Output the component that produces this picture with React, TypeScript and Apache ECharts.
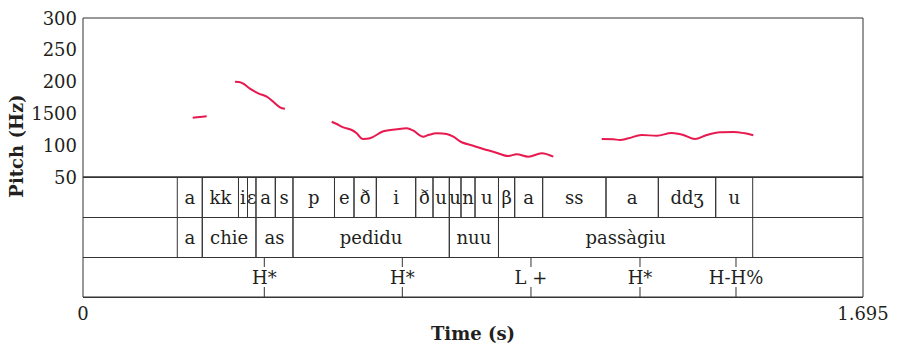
import React, { useEffect, useRef } from "react";
import * as echarts from "echarts";

// Pitch contour segments (time in s, pitch in Hz)
const seg1T = [0.2384, 0.2536, 0.2688];
const seg1F = [143.2, 144.3, 145.4];
const seg2T = [0.3303, 0.339, 0.3483, 0.3629, 0.3809, 0.3992, 0.4135, 0.4281, 0.4389];
const seg2F = [199.8, 199.4, 196.9, 189.0, 181.6, 176.3, 168.4, 159.6, 157.4];
const seg3T = [0.5404, 0.5513, 0.5656, 0.5839, 0.5947, 0.6078, 0.6237, 0.6526, 0.6817, 0.7034, 0.7178, 0.7395, 0.7504, 0.7686, 0.7903, 0.8047, 0.8229, 0.8481, 0.8699, 0.8916, 0.9242, 0.9425, 0.9677, 0.9968, 1.022];
const seg3F = [136.9, 133.3, 128.1, 123.9, 118.7, 109.7, 110.8, 121.9, 125.0, 126.6, 122.8, 113.4, 116.0, 118.7, 117.6, 113.4, 104.6, 99.2, 94.0, 89.8, 83.0, 85.7, 81.9, 87.3, 81.9];
const seg4T = [1.1272, 1.1524, 1.1669, 1.185, 1.2141, 1.2467, 1.2793, 1.3045, 1.3299, 1.3553, 1.3842, 1.4131, 1.4386, 1.4566];
const seg4F = [109.7, 109.3, 108.2, 110.8, 116.0, 114.9, 119.2, 116.0, 109.7, 116.0, 120.3, 120.8, 118.7, 115.6];

// Y tick labels
const yTicks = [50, 100, 150, 200, 250, 300];
const yTickLabels = ["50", "100", "1500", "200", "250", "300"];

// Tier 1 (segments)
const tier1Bounds = [0.2049, 0.2592, 0.3379, 0.3575, 0.3759, 0.4179, 0.4563, 0.5465, 0.5889, 0.6374, 0.723, 0.7606, 0.796, 0.8214, 0.8519, 0.9029, 0.9381, 0.9989, 1.1365, 1.2502, 1.3749, 1.4553];
const tier1Labels = ["a", "kk", "i", "ɛ", "a", "s", "p", "e", "ð", "i", "ð", "u", "u", "n", "u", "β", "a", "ss", "a", "ddʒ", "u"];
// Tier 2 (words)
const tier2Bounds = [0.2049, 0.2592, 0.3759, 0.4563, 0.796, 0.9029, 1.4553];
const tier2Labels = ["a", "chie", "as", "pedidu", "nuu", "passàgiu"];
// Tier 3 (tones, points)
const tier3Times = [0.394, 0.6939, 0.9735, 1.2104, 1.419];
const tier3Labels = ["H*", "H*", "L +", "H*", "H-H%"];

const X_MAX = 1.695;
const FONT = '"DejaVu Serif", serif';
const INK = "#231f20";
const LINE = "#333333";
const PITCH = "#e8194f";

function zip(t: number[], f: number[]) {
  return t.map((v, i) => [v, f[i]]);
}

export default function App() {
  const ref = useRef<HTMLDivElement>(null);
  useEffect(() => {
    if (!ref.current) return;
    const chart = echarts.init(ref.current, null, { renderer: "svg" });

    const intervalData: number[][] = [];
    const intervalLabels: string[] = [];
    for (let i = 0; i < tier1Labels.length; i++) {
      intervalData.push([tier1Bounds[i], tier1Bounds[i + 1], 0]);
      intervalLabels.push(tier1Labels[i]);
    }
    for (let i = 0; i < tier2Labels.length; i++) {
      intervalData.push([tier2Bounds[i], tier2Bounds[i + 1], 1]);
      intervalLabels.push(tier2Labels[i]);
    }
    const pointData = tier3Times.map((t) => [t, 2]);

    const pitchSeries = [
      zip(seg1T, seg1F),
      zip(seg2T, seg2F),
      zip(seg3T, seg3F),
      zip(seg4T, seg4F),
    ].map((d) => ({
      type: "line",
      xAxisIndex: 0,
      yAxisIndex: 0,
      data: d,
      showSymbol: false,
      smooth: 0.35,
      lineStyle: { color: PITCH, width: 2 },
      itemStyle: { color: PITCH },
      silent: true,
    }));

    const option: any = {
      animation: false,
      grid: [
        { left: 83, top: 18, width: 780, height: 159, show: true, borderColor: LINE, borderWidth: 1, backgroundColor: "transparent" },
        { left: 83, top: 177, width: 780, height: 120, show: true, borderColor: LINE, borderWidth: 1, backgroundColor: "transparent" },
      ],
      xAxis: [
        { type: "value", gridIndex: 0, min: 0, max: X_MAX, show: false },
        {
          type: "value",
          gridIndex: 1,
          min: 0,
          max: X_MAX,
          interval: X_MAX,
          axisLine: { show: false },
          axisTick: { show: false },
          splitLine: { show: false },
          axisLabel: {
            margin: 7,
            fontSize: 18,
            fontFamily: FONT,
            color: INK,
            formatter: (v: number) => (v < 0.001 ? "0" : "1.695"),
          },
          name: "Time (s)",
          nameLocation: "middle",
          nameGap: 27,
          nameTextStyle: { fontSize: 18, fontFamily: FONT, fontWeight: "bold", color: INK },
        },
      ],
      yAxis: [
        {
          type: "value",
          gridIndex: 0,
          min: 50,
          max: 300,
          interval: 50,
          axisLine: { show: false },
          axisTick: { show: false },
          splitLine: { show: false },
          axisLabel: {
            margin: 6,
            fontSize: 18,
            fontFamily: FONT,
            color: INK,
            formatter: (v: number) => {
              const i = yTicks.indexOf(Math.round(v));
              return i >= 0 ? yTickLabels[i] : "";
            },
          },
        },
        {
          type: "value",
          gridIndex: 1,
          min: 0,
          max: 3,
          interval: 1,
          inverse: true,
          axisLine: { show: false },
          axisTick: { show: false },
          axisLabel: { show: false },
          splitLine: { show: true, lineStyle: { color: LINE, width: 1 } },
        },
      ],
      series: [
        ...pitchSeries,
        {
          type: "custom",
          xAxisIndex: 1,
          yAxisIndex: 1,
          data: intervalData,
          encode: { x: [0, 1], y: 2 },
          silent: true,
          renderItem: (params: any, api: any) => {
            const s = api.value(0);
            const e = api.value(1);
            const row = api.value(2);
            const p0 = api.coord([s, row]);
            const p1 = api.coord([e, row + 1]);
            const lbl = intervalLabels[params.dataIndex];
            return {
              type: "group",
              children: [
                { type: "line", shape: { x1: p0[0], y1: p0[1], x2: p0[0], y2: p1[1] }, style: { stroke: LINE, lineWidth: 1 } },
                { type: "line", shape: { x1: p1[0], y1: p0[1], x2: p1[0], y2: p1[1] }, style: { stroke: LINE, lineWidth: 1 } },
                {
                  type: "text",
                  style: {
                    text: lbl,
                    x: (p0[0] + p1[0]) / 2,
                    y: (p0[1] + p1[1]) / 2,
                    align: "center",
                    verticalAlign: "middle",
                    fontSize: 18,
                    fontFamily: FONT,
                    fill: INK,
                  },
                },
              ],
            };
          },
        },
        {
          type: "custom",
          xAxisIndex: 1,
          yAxisIndex: 1,
          data: pointData,
          encode: { x: 0, y: 1 },
          silent: true,
          renderItem: (params: any, api: any) => {
            const t = api.value(0);
            const row = api.value(1);
            const p0 = api.coord([t, row]);
            const p1 = api.coord([t, row + 1]);
            const lbl = tier3Labels[params.dataIndex];
            return {
              type: "group",
              children: [
                { type: "line", shape: { x1: p0[0], y1: p0[1], x2: p0[0], y2: p0[1] + 10 }, style: { stroke: LINE, lineWidth: 1 } },
                { type: "line", shape: { x1: p1[0], y1: p1[1] - 10, x2: p1[0], y2: p1[1] }, style: { stroke: LINE, lineWidth: 1 } },
                {
                  type: "text",
                  style: {
                    text: lbl,
                    x: p0[0],
                    y: (p0[1] + p1[1]) / 2,
                    align: "center",
                    verticalAlign: "middle",
                    fontSize: 18,
                    fontFamily: FONT,
                    fill: INK,
                  },
                },
              ],
            };
          },
        },
      ],
      graphic: [
        {
          type: "text",
          x: 16,
          y: 146,
          rotation: Math.PI / 2,
          style: {
            text: "Pitch (Hz)",
            align: "center",
            verticalAlign: "middle",
            fontSize: 18,
            fontWeight: "bold",
            fontFamily: FONT,
            fill: INK,
          },
        },
      ],
    };
    chart.setOption(option);
    return () => chart.dispose();
  }, []);
  return (
    <div
      ref={ref}
      style={{ position: "fixed", left: 0, top: 0, width: 898, height: 350, background: "#fff" }}
    />
  );
}
